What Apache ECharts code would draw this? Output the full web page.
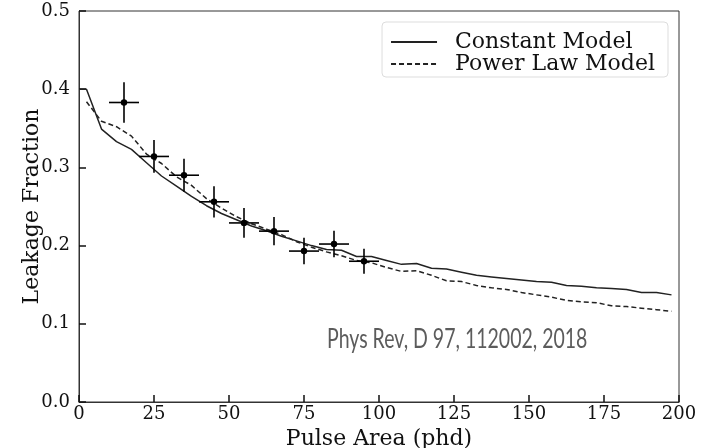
<!DOCTYPE html>
<html>
<head>
<meta charset="utf-8">
<script src="https://cdn.jsdelivr.net/npm/echarts@6/dist/echarts.min.js"></script>
<style>html,body{margin:0;padding:0;background:#fff}#c{width:708px;height:448px}</style>
</head>
<body>
<div id="c"></div>
<script>
// Measured points (bin centres, leakage fraction, y error, x half-width)
var pointX = [15, 25, 35, 45, 55, 65, 75, 85, 95];
var pointY = [0.383, 0.314, 0.290, 0.256, 0.229, 0.2185, 0.193, 0.202, 0.180];
var pointYErr = [0.026, 0.021, 0.021, 0.020, 0.019, 0.018, 0.017, 0.017, 0.016];
var pointXErr = [5, 5, 5, 5, 5, 5, 5, 5, 5];

// Constant Model curve
var constX = [0, 2.5, 7.5, 12.5, 17.5, 22.5, 27.5, 32.5, 37.5, 42.5, 47.5, 52.5, 57.5, 62.5, 67.5, 72.5, 77.5, 82.5, 87.5, 92.5, 97.5, 102.5, 107.5, 112.5, 117.5, 122.5, 127.5, 132.5, 137.5, 142.5, 147.5, 152.5, 157.5, 162.5, 167.5, 172.5, 177.5, 182.5, 187.5, 192.5, 197.5];
var constY = [0.400, 0.400, 0.349, 0.333, 0.323, 0.306, 0.289, 0.276, 0.263, 0.251, 0.241, 0.233, 0.225, 0.219, 0.212, 0.206, 0.200, 0.195, 0.194, 0.186, 0.186, 0.181, 0.176, 0.177, 0.171, 0.170, 0.166, 0.162, 0.160, 0.158, 0.156, 0.154, 0.153, 0.149, 0.148, 0.146, 0.145, 0.144, 0.140, 0.140, 0.137];

// Power Law Model curve
var powX = [2.5, 7.5, 12.5, 17.5, 22.5, 27.5, 32.5, 37.5, 42.5, 47.5, 52.5, 57.5, 62.5, 67.5, 72.5, 77.5, 82.5, 87.5, 92.5, 97.5, 102.5, 107.5, 112.5, 117.5, 122.5, 127.5, 132.5, 137.5, 142.5, 147.5, 152.5, 157.5, 162.5, 167.5, 172.5, 177.5, 182.5, 187.5, 192.5, 197.5];
var powY = [0.384, 0.359, 0.352, 0.340, 0.317, 0.305, 0.288, 0.277, 0.260, 0.248, 0.237, 0.228, 0.221, 0.214, 0.205, 0.198, 0.192, 0.187, 0.181, 0.178, 0.172, 0.167, 0.168, 0.162, 0.155, 0.154, 0.149, 0.146, 0.144, 0.140, 0.137, 0.134, 0.130, 0.128, 0.127, 0.123, 0.122, 0.120, 0.118, 0.116];

var xTicks = [0, 25, 50, 75, 100, 125, 150, 175, 200];
var yTicks = [0.0, 0.1, 0.2, 0.3, 0.4, 0.5];

var seriesNames = ['Constant Model', 'Power Law Model'];
var xTitle = 'Pulse Area (phd)';
var yTitle = 'Leakage Fraction';
var watermark = 'Phys Rev, D 97, 112002, 2018';

function zip(a, b) { return a.map(function (v, i) { return [v, b[i]]; }); }
var pts = pointX.map(function (x, i) { return [x, pointY[i], pointYErr[i], pointXErr[i]]; });

var serif = 'DejaVu Serif';
var chart = echarts.init(document.getElementById('c'), null, { renderer: 'canvas' });
chart.setOption({
  animation: false,
  backgroundColor: '#fff',
  grid: { left: 79, right: 29, top: 11, bottom: 46, outerBoundsMode: 'none', containLabel: false, show: true, borderColor: '#333', borderWidth: 1, backgroundColor: 'transparent' },
  xAxis: {
    type: 'value', min: xTicks[0], max: xTicks[xTicks.length - 1], interval: 25,
    name: xTitle, nameLocation: 'middle', nameGap: 24,
    nameTextStyle: { fontFamily: serif, fontSize: 22, color: '#111' },
    axisLine: { lineStyle: { color: '#333', width: 1 } },
    axisTick: { inside: true, length: 7, lineStyle: { color: '#111', width: 1.5 } },
    axisLabel: { fontFamily: serif, fontSize: 18, color: '#111', margin: 3 },
    splitLine: { show: false }
  },
  yAxis: {
    type: 'value', min: yTicks[0], max: yTicks[yTicks.length - 1], interval: 0.1,
    name: yTitle, nameLocation: 'middle', nameGap: 36, nameMoveOverlap: false,
    nameTextStyle: { fontFamily: serif, fontSize: 22, color: '#111' },
    axisLine: { lineStyle: { color: '#333', width: 1 } },
    axisTick: { inside: true, length: 7, lineStyle: { color: '#111', width: 1.5 } },
    axisLabel: { fontFamily: serif, fontSize: 18, color: '#111', margin: 9, formatter: function (v) { return v.toFixed(1); } },
    splitLine: { show: false }
  },
  legend: {
    orient: 'vertical', right: 40, top: 22,
    data: seriesNames,
    backgroundColor: '#fff', borderColor: '#ddd', borderWidth: 1, borderRadius: 4,
    padding: [9, 13, 2, 8], itemGap: 0, itemWidth: 46, itemHeight: 18,
    itemStyle: { opacity: 0 },
    textStyle: { fontFamily: serif, fontSize: 22, color: '#111', padding: [0, 0, 0, 13] }
  },
  series: [
    {
      name: seriesNames[0], type: 'line', data: zip(constX, constY), symbol: 'none',
      lineStyle: { color: '#222', width: 1.5 }, itemStyle: { color: '#222' }, z: 3
    },
    {
      name: seriesNames[1], type: 'line', data: zip(powX, powY), symbol: 'none',
      lineStyle: { color: '#222', width: 1.5, type: [5, 3] }, itemStyle: { color: '#222' }, z: 3
    },
    {
      type: 'custom', data: pts, z: 5,
      renderItem: function (params, api) {
        var x = api.value(0), y = api.value(1), ye = api.value(2), xe = api.value(3);
        var c = api.coord([x, y]);
        var top = api.coord([x, y + ye]), bot = api.coord([x, y - ye]);
        var lft = api.coord([x - xe, y]), rgt = api.coord([x + xe, y]);
        var st = { stroke: '#000', lineWidth: 1.6 };
        return {
          type: 'group',
          children: [
            { type: 'line', shape: { x1: top[0], y1: top[1], x2: bot[0], y2: bot[1] }, style: st },
            { type: 'line', shape: { x1: lft[0], y1: lft[1], x2: rgt[0], y2: rgt[1] }, style: st },
            { type: 'circle', shape: { cx: c[0], cy: c[1], r: 3.2 }, style: { fill: '#000' } }
          ]
        };
      }
    }
  ],
  graphic: [
    { type: 'text', x: 327, y: 353, scaleX: 0.75, style: { text: watermark, fontFamily: 'Lato', fontSize: 26, fill: '#5c5c5c', verticalAlign: 'bottom' }, z: 10 }
  ]
});
</script>
</body>
</html>
